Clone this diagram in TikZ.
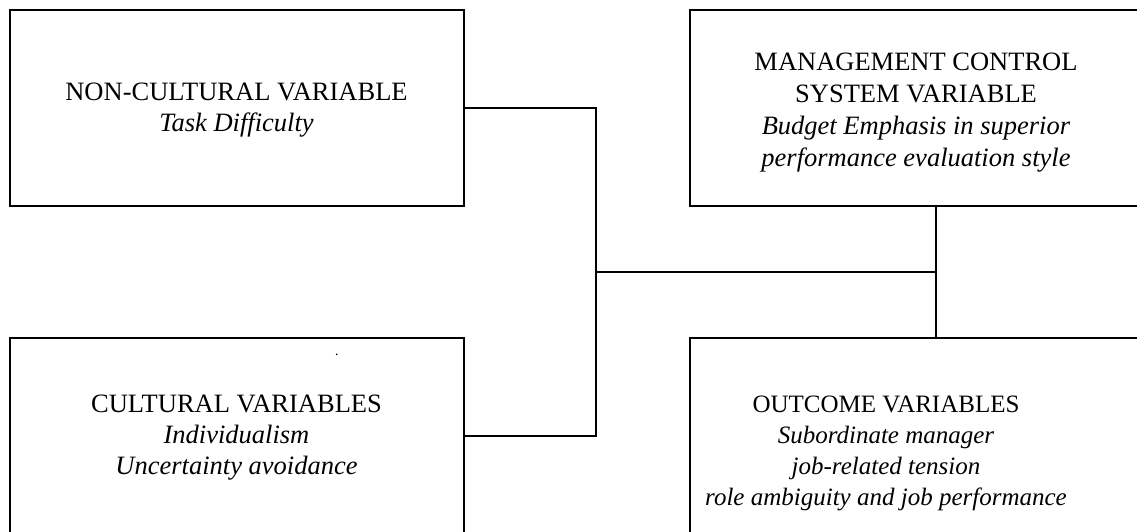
\documentclass[tikz,border=0pt]{standalone}
\usepackage{fontspec}
\setmainfont{Liberation Serif}
\begin{document}
\begin{tikzpicture}[x=1pt,y=-1pt,
  boxstyle/.style={draw, line width=2pt, rectangle, inner sep=0pt},
  txt/.style={align=center, inner sep=0pt, font=\fontsize{26.5}{31}\selectfont},
  conn/.style={line width=2pt, line join=miter}]
\useasboundingbox (0,0) rectangle (1137,531);
\clip (0,0) rectangle (1137,531);
% boxes
\node[boxstyle, minimum width=453.5pt, minimum height=195.7pt] (b1) at (236.75,107.85) {};
\node[boxstyle, minimum width=452pt, minimum height=195.7pt] (b2) at (916,107.85) {};
\node[boxstyle, minimum width=453.5pt, minimum height=196.3pt] (b3) at (236.75,435.85) {};
\node[boxstyle, minimum width=452pt, minimum height=222.3pt] (b4) at (916,448.85) {};
% texts
\node[txt] (t1) at (236.5,110) {NON-CULTURAL VARIABLE\\\textit{Task Difficulty}};
\node[txt, font=\fontsize{26.5}{32}\selectfont] (t2) at (916,112.5) {MANAGEMENT CONTROL\\SYSTEM VARIABLE\\\textit{Budget Emphasis in superior}\\\textit{performance evaluation style}};
\node[txt] (t3) at (236.5,437.5) {CULTURAL VARIABLES\\\textit{Individualism}\\\textit{Uncertainty avoidance}};
\node[txt, font=\fontsize{25}{31}\selectfont] (t4) at (886,453.5) {OUTCOME VARIABLES\\\textit{Subordinate manager}\\\textit{job-related tension}\\\textit{role ambiguity and job performance}};
% junctions
\coordinate (j1) at (596,271.7);
\coordinate (j2) at (935.7,271.7);
% connectors
\draw[conn] (b1.east) -| (j1) |- (b3.east);
\draw[conn] (j1) -- (j2);
\draw[conn] (b2.south -| j2) -- (b4.north -| j2);
% stray dot
\node[circle, fill, inner sep=0pt, minimum size=1.8pt] (dot) at (336.7,354.3) {};
\end{tikzpicture}
\end{document}
